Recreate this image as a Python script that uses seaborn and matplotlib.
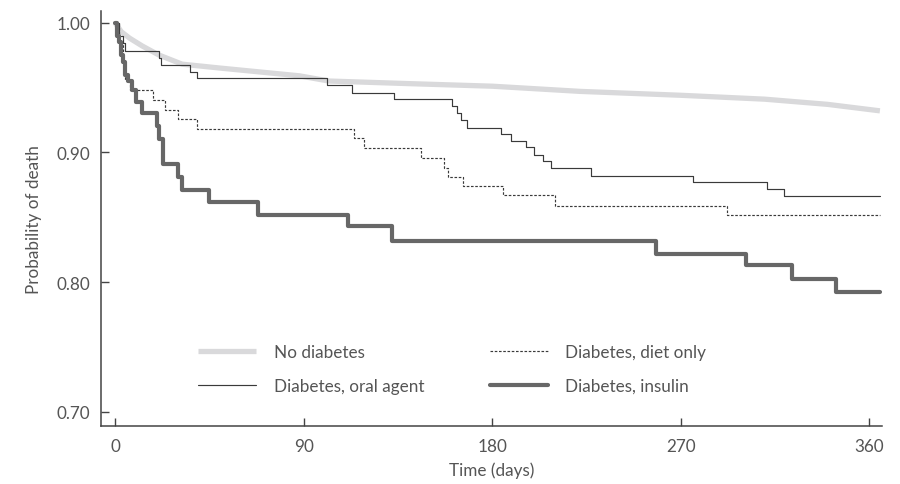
import pandas as pd
import seaborn as sns
import matplotlib.pyplot as plt

# Kaplan-Meier style curves
no_diab_days = [0, 3, 7, 13, 21, 32, 50, 88, 102, 140, 180, 222, 270, 310, 340, 365]
no_diab_prob = [1.0, 0.993, 0.988, 0.982, 0.975, 0.968, 0.965, 0.959, 0.955, 0.953,
                0.951, 0.947, 0.944, 0.941, 0.937, 0.932]

oral_days = [0, 2, 4, 5, 21, 22, 36, 39, 101, 113, 133, 161, 163, 165, 168, 184, 189,
             196, 200, 204, 208, 227, 276, 311, 319, 365]
oral_prob = [1.0, 0.99, 0.984, 0.978, 0.973, 0.967, 0.962, 0.957, 0.952, 0.946, 0.941,
             0.936, 0.93, 0.925, 0.919, 0.914, 0.909, 0.904, 0.898, 0.893, 0.888, 0.882,
             0.877, 0.872, 0.866, 0.866]

diet_days = [0, 2, 4, 5, 7, 18, 24, 30, 39, 114, 119, 146, 157, 159, 166, 185, 210, 292, 365]
diet_prob = [1.0, 0.985, 0.97, 0.956, 0.948, 0.94, 0.933, 0.926, 0.918, 0.911, 0.903,
             0.896, 0.888, 0.881, 0.874, 0.867, 0.859, 0.852, 0.852]

insulin_days = [0, 1, 2, 3, 4, 5, 6, 8, 10, 13, 20, 21, 23, 30, 32, 45, 68, 111, 132,
                258, 301, 323, 344, 365]
insulin_prob = [1.0, 0.99, 0.985, 0.975, 0.97, 0.96, 0.955, 0.948, 0.939, 0.93, 0.92,
                0.91, 0.891, 0.881, 0.871, 0.862, 0.852, 0.843, 0.832, 0.822, 0.813,
                0.802, 0.792, 0.792]

x_ticks = [0, 90, 180, 270, 360]
y_ticks = [0.70, 0.80, 0.90, 1.00]

sns.set_style('ticks')
plt.rcParams['font.family'] = ['Lato', 'DejaVu Sans']
text_col = '#555555'
fs = 12.3

fig = plt.figure(figsize=(9, 4.85), dpi=100)
ax = fig.add_axes([0.1122, 0.1196, 0.8678, 0.8557])

no_df = pd.DataFrame({'day': no_diab_days, 'p': no_diab_prob})
oral_df = pd.DataFrame({'day': oral_days, 'p': oral_prob})
diet_df = pd.DataFrame({'day': diet_days, 'p': diet_prob})
ins_df = pd.DataFrame({'day': insulin_days, 'p': insulin_prob})

sns.lineplot(data=no_df, x='day', y='p', ax=ax, color='#d9d9db', lw=3.8,
             label='No diabetes', solid_capstyle='butt')
sns.lineplot(data=oral_df, x='day', y='p', ax=ax, color='#3a3a3a', lw=0.85,
             drawstyle='steps-post', label='Diabetes, oral agent')
sns.lineplot(data=diet_df, x='day', y='p', ax=ax, color='#3a3a3a', lw=0.85,
             drawstyle='steps-post', dashes=False, linestyle=(0, (2.2, 1.4)),
             label='Diabetes, diet only')
sns.lineplot(data=ins_df, x='day', y='p', ax=ax, color='#676767', lw=3.0,
             drawstyle='steps-post', label='Diabetes, insulin')

ax.set_xlim(-6.7, 366)
ax.set_ylim(0.689, 1.009)
ax.set_xticks(x_ticks)
ax.set_xticklabels([str(t) for t in x_ticks])
ax.set_yticks(y_ticks)
ax.set_yticklabels([f'{t:.2f}' for t in y_ticks])

sns.despine(ax=ax)
for s in ['left', 'bottom']:
    ax.spines[s].set_color('#444444')
    ax.spines[s].set_linewidth(1.1)
ax.tick_params(direction='in', length=6, width=1.0, color='#444444',
               labelcolor=text_col, labelsize=fs)
ax.tick_params(axis='x', pad=9)
ax.tick_params(axis='y', pad=8)

ax.set_xlabel('Time (days)', color=text_col, fontsize=fs, labelpad=5)
ax.set_ylabel('Probability of death', color=text_col, fontsize=fs, labelpad=10)

handles, labels = ax.get_legend_handles_labels()
leg = ax.legend(handles, labels, ncol=2, frameon=False, loc='lower left',
                bbox_to_anchor=(0.105, 0.04), fontsize=fs, handlelength=3.4,
                handletextpad=1.0, columnspacing=3.85, labelspacing=1.03)
for t in leg.get_texts():
    t.set_color(text_col)

fig.savefig('out.png', dpi=100)
